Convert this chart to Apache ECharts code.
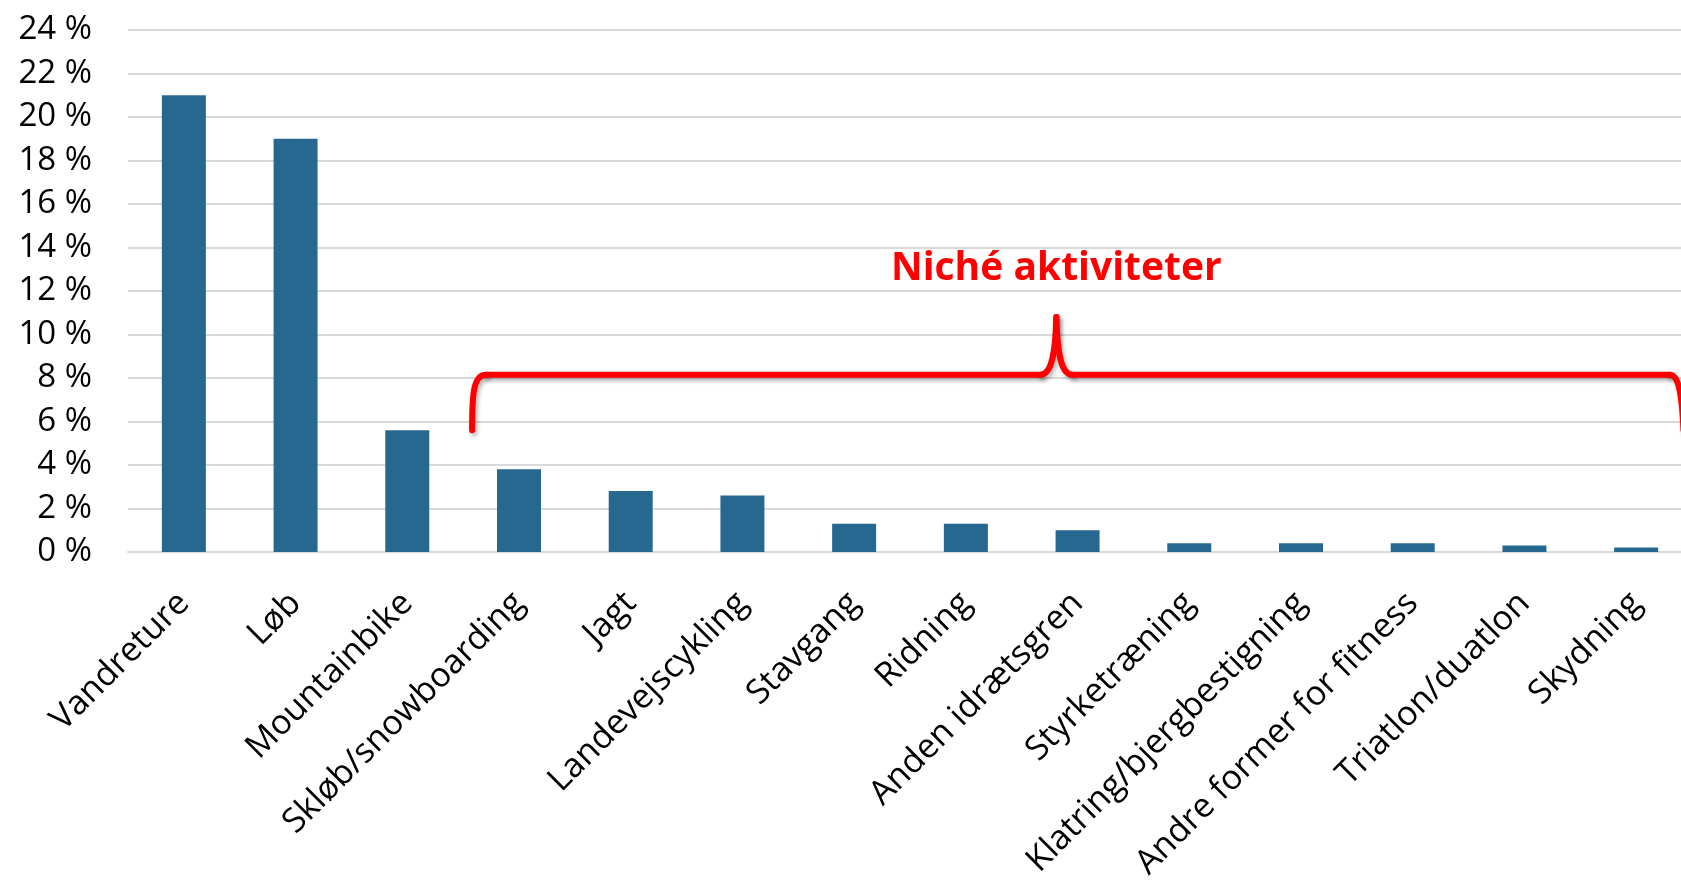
<!DOCTYPE html>
<html>
<head>
<meta charset="utf-8">
<title>Aktiviteter</title>
<script src="https://cdn.jsdelivr.net/npm/echarts@6/dist/echarts.min.js"></script>
<style>
  html, body { margin: 0; padding: 0; background: #fff; overflow: hidden; }
  /* the plot in the original runs slightly past the right edge */
  #chart { width: 1692px; height: 883px; }
</style>
</head>
<body>
<div id="chart"></div>
<script>
// data
var categories = ['Vandreture', 'Løb', 'Mountainbike', 'Skløb/snowboarding', 'Jagt',
  'Landevejscykling', 'Stavgang', 'Ridning', 'Anden idrætsgren', 'Styrketræning',
  'Klatring/bjergbestigning', 'Andre former for fitness', 'Triatlon/duatlon', 'Skydning'];
var shares = [21.0, 19.0, 5.6, 3.8, 2.8, 2.6, 1.3, 1.3, 1.0, 0.4, 0.4, 0.4, 0.3, 0.2];
var yTicks = { min: 0, max: 24, step: 2 };
var braceLabel = 'Niché aktiviteter';

var chartDom = document.getElementById('chart');
var myChart = echarts.init(chartDom);
var font = '"Open Sans", "Noto Sans", sans-serif';

var option = {
  animation: false,
  grid: {
    left: 128,
    right: 0,
    top: 30,
    bottom: 328
  },
  xAxis: {
    type: 'category',
    data: categories,
    axisTick: { show: false },
    axisLine: { lineStyle: { color: '#d9d9d9', width: 2 } },
    axisLabel: {
      interval: 0,
      rotate: 45,
      margin: 46,
      color: '#000',
      fontFamily: font,
      fontSize: 34
    }
  },
  yAxis: {
    type: 'value',
    min: yTicks.min,
    max: yTicks.max,
    interval: yTicks.step,
    axisLine: { show: false },
    axisTick: { show: false },
    splitLine: { lineStyle: { color: '#d9d9d9', width: 2 } },
    axisLabel: {
      formatter: '{value} %',
      margin: 36,
      color: '#000',
      fontFamily: font,
      fontSize: 33
    }
  },
  series: [
    {
      type: 'bar',
      data: shares,
      barWidth: 44,
      itemStyle: { color: '#276890' }
    }
  ]
};
myChart.setOption(option);

// brace over the niche activities, placed from the axes
function drawBrace() {
  var p0 = myChart.convertToPixel({ gridIndex: 0 }, [0, 0]);
  var p1 = myChart.convertToPixel({ gridIndex: 0 }, [1, 0]);
  var step = p1[0] - p0[0];
  var xAt = function (i) { return p0[0] + i * step; };
  var yAt = function (v) { return myChart.convertToPixel({ gridIndex: 0 }, [0, v])[1]; };

  var xl = xAt(2.58), xp = xAt(7.81), xr = xAt(13.37);
  var yb = yAt(5.6), yh = yAt(8.15), yp = yAt(10.8);

  var stroke = {
    fill: null,
    stroke: '#ff0000',
    lineWidth: 6,
    lineCap: 'round',
    lineJoin: 'round',
    shadowBlur: 4,
    shadowOffsetX: 2,
    shadowOffsetY: 3,
    shadowColor: 'rgba(0,0,0,0.3)'
  };
  var curve = function (x1, y1, c1x, c1y, c2x, c2y, x2, y2) {
    return {
      type: 'bezierCurve', z: 100, style: stroke,
      shape: { x1: x1, y1: y1, cpx1: c1x, cpy1: c1y, cpx2: c2x, cpy2: c2y, x2: x2, y2: y2 }
    };
  };
  var line = function (x1, y1, x2, y2) {
    return { type: 'line', z: 100, style: stroke, shape: { x1: x1, y1: y1, x2: x2, y2: y2 } };
  };

  myChart.setOption({
    graphic: [
      curve(xl, yb, xl, yh + 20, xl + 1, yh, xl + 14, yh),
      line(xl + 14, yh, xp - 16, yh),
      curve(xp - 16, yh, xp - 5, yh, xp - 1, yh - 20, xp, yp),
      curve(xp, yp, xp + 1, yh - 20, xp + 5, yh, xp + 16, yh),
      line(xp + 16, yh, xr - 8, yh),
      curve(xr - 8, yh, xr, yh, xr + 4, yh + 12, xr + 6, yb),
      {
        type: 'text',
        x: xp,
        y: yAt(13.0),
        z: 100,
        style: {
          text: braceLabel,
          fill: '#ff0000',
          font: 'bold 39px "Liberation Sans Narrow", "Open Sans", sans-serif',
          align: 'center',
          verticalAlign: 'middle'
        }
      }
    ]
  });
}
drawBrace();
</script>
</body>
</html>
